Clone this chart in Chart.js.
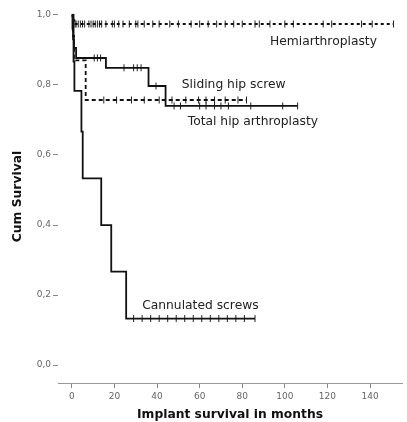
<!DOCTYPE html>
<html>
<head>
<meta charset="utf-8">
<script src="https://cdn.jsdelivr.net/npm/chart.js@4/dist/chart.umd.min.js"></script>
<style>
  body { margin: 0; background: #fff; }
  #wrap { width: 407px; height: 422px; }
</style>
</head>
<body>
<div id="wrap"><canvas id="km" width="407" height="422"></canvas></div>
<script>
// Kaplan-Meier curves, times in months
const hemiT = [0, 0.3, 0.7, 1.2, 151];
const hemiS = [1, 0.993, 0.985, 0.974, 0.974];
const hemiCens = [0.5, 1.5, 2, 3, 4, 5, 6, 8, 9, 10, 11, 12, 13, 14, 16, 19, 20, 22, 24, 27, 30, 31, 34, 38, 41, 46, 50, 56, 60, 64, 68, 72, 76, 80, 86, 88, 93, 100, 104, 118, 122, 136, 141, 151];

const slidT = [0, 0.3, 0.6, 1, 2, 16, 36, 44, 106];
const slidS = [1, 0.96, 0.93, 0.906, 0.877, 0.849, 0.797, 0.74, 0.74];
const slidCens = [10.5, 12, 13.5, 24.5, 29, 30.7, 32.5, 39.5, 48, 51, 60, 63, 67, 70, 73.5, 84, 99, 106];

const totT = [0, 0.5, 1, 6.5, 82];
const totS = [1, 0.94, 0.87, 0.757, 0.757];
const totCens = [15, 21, 28, 34, 41, 47, 53.5, 59.5, 63, 67, 72, 78, 82];

const cannT = [0, 0.8, 1.2, 4.5, 5.1, 13.8, 18.5, 25.5, 86];
const cannS = [1, 0.867, 0.783, 0.667, 0.533, 0.4, 0.267, 0.133, 0.133];
const cannCens = [29, 33, 37, 41, 45, 49, 53, 57, 61, 65, 69, 73, 77, 81, 86];

const curveNames = ['Hemiarthroplasty', 'Sliding hip screw', 'Total hip arthroplasty', 'Cannulated screws'];
const nameX = [93, 51.6, 54.4, 33];
const nameY = [0.923, 0.80, 0.694, 0.169];

const xTicks = [0, 20, 40, 60, 80, 100, 120, 140];
const yTicks = [0, 0.2, 0.4, 0.6, 0.8, 1.0];

function pts(t, s) { return t.map((v, i) => ({ x: v, y: s[i] })); }
function levelAt(t, s, when) {
  let v = s[0];
  for (let i = 0; i < t.length; i++) if (t[i] <= when) v = s[i];
  return v;
}
function cens(c, t, s) { return c.map(v => ({ x: v, y: levelAt(t, s, v) })); }

function curve(data, dash) {
  return { type: 'line', data: data, stepped: true, borderColor: '#111', borderWidth: 1.8,
    borderDash: dash, pointRadius: 0, fill: false };
}
function marks(data) {
  return { type: 'scatter', data: data, pointStyle: 'line', rotation: 90, pointRadius: 3.5,
    borderColor: '#222', borderWidth: 1, backgroundColor: '#222' };
}

const nameLabels = {
  id: 'nameLabels',
  afterDatasetsDraw(chart) {
    const ctx = chart.ctx, xs = chart.scales.x, ys = chart.scales.y;
    ctx.save();
    ctx.fillStyle = '#222';
    ctx.font = '12.3px "DejaVu Sans"';
    ctx.textAlign = 'left';
    ctx.textBaseline = 'middle';
    curveNames.forEach((n, i) => ctx.fillText(n, xs.getPixelForValue(nameX[i]), ys.getPixelForValue(nameY[i])));
    ctx.restore();
  }
};

new Chart(document.getElementById('km'), {
  data: {
    datasets: [
      curve(pts(hemiT, hemiS), [3, 3]),
      marks(cens(hemiCens, hemiT, hemiS)),
      curve(pts(slidT, slidS), []),
      marks(cens(slidCens, slidT, slidS)),
      curve(pts(totT, totS), [4, 3]),
      marks(cens(totCens, totT, totS)),
      curve(pts(cannT, cannS), []),
      marks(cens(cannCens, cannT, cannS))
    ]
  },
  options: {
    responsive: false,
    animation: false,
    layout: { padding: { top: 10, right: 2, left: 0, bottom: 0 } },
    plugins: { legend: { display: false }, tooltip: { enabled: false } },
    scales: {
      x: {
        type: 'linear', min: -6.5, max: 155,
        afterFit(s) { s.height = 39; },
        afterBuildTicks(s) { s.ticks = xTicks.map(v => ({ value: v })); },
        border: { display: true, color: '#999', width: 1 },
        grid: { drawOnChartArea: false, drawTicks: true, tickLength: 5, color: '#888' },
        ticks: { color: '#666', font: { size: 9, family: 'DejaVu Sans' }, padding: 3 },
        title: { display: true, text: 'Implant survival in months', color: '#111',
          font: { size: 12.3, weight: 'bold', family: 'DejaVu Sans' }, padding: { top: 2, bottom: 0 } }
      },
      y: {
        type: 'linear', min: -0.051, max: 1.014,
        afterFit(s) { s.width = 58; },
        afterBuildTicks(s) { s.ticks = yTicks.map(v => ({ value: v })); },
        border: { display: false },
        grid: { drawOnChartArea: false, drawTicks: true, tickLength: 5, color: '#888' },
        ticks: { color: '#666', font: { size: 9, family: 'DejaVu Sans' }, padding: 2,
          callback: v => v.toFixed(1).replace('.', ',') },
        title: { display: true, text: 'Cum Survival', color: '#111',
          font: { size: 12.3, weight: 'bold', family: 'DejaVu Sans' }, padding: { top: 10, bottom: 4 } }
      }
    }
  },
  plugins: [nameLabels, {
    id: 'bg',
    beforeDraw(c) { c.ctx.save(); c.ctx.fillStyle = '#fff'; c.ctx.fillRect(0, 0, c.width, c.height); c.ctx.restore(); }
  }]
});
</script>
</body>
</html>
